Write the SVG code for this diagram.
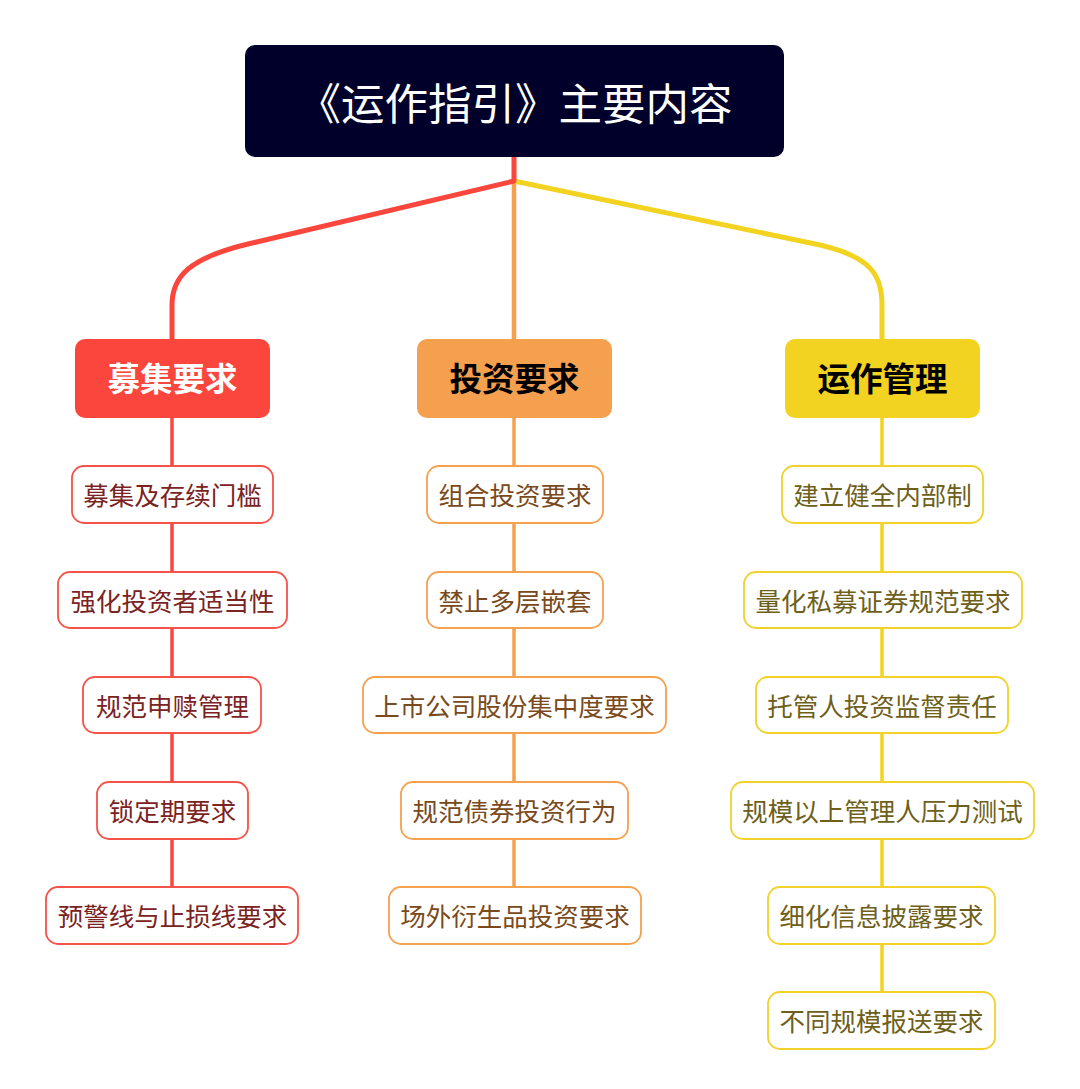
<svg xmlns="http://www.w3.org/2000/svg" width="1080" height="1089" viewBox="0 0 1080 1089">
<style>
text{font-family:"Noto Sans CJK SC","Noto Sans",sans-serif;text-anchor:middle;dominant-baseline:central}
.root{fill:#00002A}
.rt{fill:#fff;font-size:43.5px}
.cat{font-size:32.5px;font-weight:bold}
.leaf{fill:#fff;stroke-width:1.8}
.lt{font-size:25.5px}
.r .leaf{stroke:#F5524A}.r .lt{fill:#7B2222}
.o .leaf{stroke:#F5A14E}.o .lt{fill:#7A4A1C}
.y .leaf{stroke:#F0D22A}.y .lt{fill:#6E5F1A}
.ln{fill:none;stroke-linecap:round;stroke-linejoin:round}
</style>
<rect width="1080" height="1089" fill="#fff"/>
<g id="connectors">
<path class="ln" d="M514,181 L514,340" stroke="#F5A04E" stroke-width="4.5"/>
<path class="ln" d="M514,181 L820,245 C872,257 882,276 882,305 L882,340" stroke="#F2D321" stroke-width="5"/>
<path class="ln" d="M514,157 L514,181 L248,244 C190,258 172,276 172,305 L172,340" stroke="#FA463C" stroke-width="5"/>
<path class="ln" d="M172,418 L172,887" stroke="#FA463C" stroke-width="3.5"/>
<path class="ln" d="M514,418 L514,887" stroke="#F5A04E" stroke-width="3.5"/>
<path class="ln" d="M882,418 L882,992" stroke="#F2D321" stroke-width="3.5"/>
</g>
<g id="root"><rect class="root" x="245" y="45" width="539" height="112" rx="10"/><text class="rt" x="515" y="101">《运作指引》主要内容</text></g>
<g id="cat-mujI"><rect x="75" y="339" width="195" height="79" rx="10" fill="#FA463C"/><text class="cat" x="172.5" y="376.5" fill="#fff">募集要求</text></g>
<g id="cat-touzi"><rect x="417" y="339" width="195" height="79" rx="10" fill="#F5A04E"/><text class="cat" x="514.5" y="376.5" fill="#000">投资要求</text></g>
<g id="cat-yunzuo"><rect x="785" y="339" width="195" height="79" rx="10" fill="#F2D321"/><text class="cat" x="882.5" y="376.5" fill="#000">运作管理</text></g>
<g class="r">
<g id="r1"><rect class="leaf" x="72" y="466" width="201" height="57" rx="12"/><text class="lt" x="172.5" y="493.5">募集及存续门槛</text></g>
<g id="r2"><rect class="leaf" x="58" y="572" width="229" height="56" rx="12"/><text class="lt" x="172.5" y="599">强化投资者适当性</text></g>
<g id="r3"><rect class="leaf" x="83" y="677" width="178" height="56" rx="12"/><text class="lt" x="172.5" y="704">规范申赎管理</text></g>
<g id="r4"><rect class="leaf" x="97" y="782" width="151" height="57" rx="12"/><text class="lt" x="172.5" y="809.5">锁定期要求</text></g>
<g id="r5"><rect class="leaf" x="46" y="887" width="252" height="57" rx="12"/><text class="lt" x="172.5" y="914.5">预警线与止损线要求</text></g>
</g>
<g class="o">
<g id="o1"><rect class="leaf" x="427" y="466" width="176" height="57" rx="12"/><text class="lt" x="515" y="493.5">组合投资要求</text></g>
<g id="o2"><rect class="leaf" x="427" y="572" width="176" height="56" rx="12"/><text class="lt" x="515" y="599">禁止多层嵌套</text></g>
<g id="o3"><rect class="leaf" x="363" y="677" width="303" height="56" rx="12"/><text class="lt" x="514.5" y="704">上市公司股份集中度要求</text></g>
<g id="o4"><rect class="leaf" x="401" y="782" width="227" height="57" rx="12"/><text class="lt" x="514.5" y="809.5">规范债券投资行为</text></g>
<g id="o5"><rect class="leaf" x="389" y="887" width="252" height="57" rx="12"/><text class="lt" x="515" y="914.5">场外衍生品投资要求</text></g>
</g>
<g class="y">
<g id="y1"><rect class="leaf" x="782" y="466" width="201" height="57" rx="12"/><text class="lt" x="882.5" y="493.5">建立健全内部制</text></g>
<g id="y2"><rect class="leaf" x="744" y="572" width="278" height="56" rx="12"/><text class="lt" x="883" y="599">量化私募证券规范要求</text></g>
<g id="y3"><rect class="leaf" x="756" y="677" width="252" height="56" rx="12"/><text class="lt" x="882" y="704">托管人投资监督责任</text></g>
<g id="y4"><rect class="leaf" x="731" y="782" width="303" height="57" rx="12"/><text class="lt" x="882.5" y="809.5">规模以上管理人压力测试</text></g>
<g id="y5"><rect class="leaf" x="768" y="887" width="227" height="57" rx="12"/><text class="lt" x="881.5" y="914.5">细化信息披露要求</text></g>
<g id="y6"><rect class="leaf" x="768" y="992" width="227" height="57" rx="12"/><text class="lt" x="881.5" y="1019.5">不同规模报送要求</text></g>
</g>
</svg>
